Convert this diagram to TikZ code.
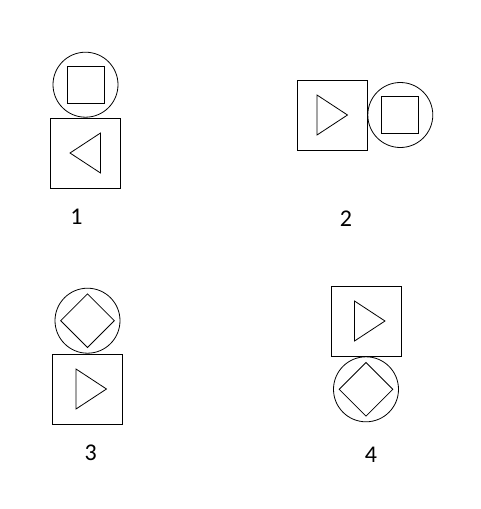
\documentclass[tikz,border=0pt]{standalone}
\usepackage{fontspec}
\setmainfont{Carlito}
\usetikzlibrary{positioning, shapes.geometric}

\begin{document}
\begin{tikzpicture}[
      x=1pt, y=-1pt,
      line width=0.8pt,
      node distance=0pt,
      box/.style={draw, minimum size=70pt, inner sep=0pt},
      ring/.style={draw, circle, minimum size=65pt, inner sep=0pt},
      sq/.style={draw, minimum size=37pt, inner sep=0pt},
      gem/.style={draw, diamond, minimum size=54pt, inner sep=0pt},
      tri/.style={draw, isosceles triangle, isosceles triangle stretches,
                  minimum width=40pt, minimum height=30.5pt, inner sep=0pt,
                  outer sep=0pt, anchor=apex},
      num/.style={font=\fontsize{24}{27}\selectfont, inner sep=0pt},
    ]
    \useasboundingbox (0,0) rectangle (481,509);

    % ── 1 ──
    \node[box] (b1) at (85.5,153) {};
    \node[ring, above=of b1] (c1) {};
    \node[sq] (s1) at (c1) {};
    \node[tri, shape border rotate=180, xshift=-15.5pt] (t1) at (b1) {};
    \node[num] (n1) at (76.5,217) {1};

    % ── 2 ──
    \node[box] (b2) at (332,115) {};
    \node[ring, right=of b2] (c2) {};
    \node[sq] (s2) at (c2) {};
    \node[tri, xshift=15.5pt] (t2) at (b2) {};
    \node[num] (n2) at (346,218.5) {2};

    % ── 3 ──
    \node[box] (b3) at (87.5,389) {};
    \node[ring, above=of b3] (c3) {};
    \node[gem] (d3) at (c3) {};
    \node[tri, xshift=19pt] (t3) at (b3) {};
    \node[num] (n3) at (90.7,452.3) {3};

    % ── 4 ──
    \node[box] (b4) at (366,321) {};
    \node[ring, below=of b4] (c4) {};
    \node[gem] (d4) at (c4) {};
    \node[tri, xshift=19pt] (t4) at (b4) {};
    \node[num] (n4) at (371,454.7) {4};
  \end{tikzpicture}
\end{document}
